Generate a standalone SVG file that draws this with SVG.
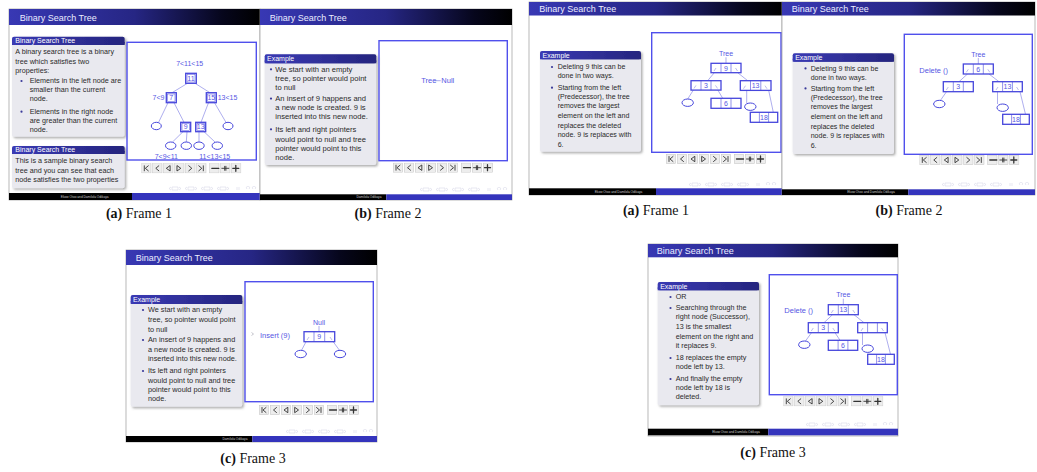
<svg xmlns="http://www.w3.org/2000/svg" width="1037" height="472" viewBox="0 0 1037 472">
<defs>
<linearGradient id="tbg" x1="0" x2="1" y1="0" y2="0"><stop offset="0" stop-color="#3838b4"/><stop offset=".5" stop-color="#262684"/><stop offset=".85" stop-color="#06061c"/><stop offset="1" stop-color="#000"/></linearGradient>
<linearGradient id="bhg" x1="0" x2="1" y1="0" y2="0"><stop offset="0" stop-color="#3a3ab4"/><stop offset="1" stop-color="#25257e"/></linearGradient>
<filter id="sh" x="-10%" y="-10%" width="130%" height="130%"><feDropShadow dx="1.5" dy="1.5" stdDeviation="1.2" flood-color="#666" flood-opacity=".55"/></filter>
<symbol id="navbar" viewBox="0 0 100 10" width="100" height="10">
<g fill="#ededed" stroke="#c2c2c2" stroke-width=".5">
<rect x=".3" y=".3" width="9.4" height="9.4"/><rect x="11.3" y=".3" width="9.4" height="9.4"/><rect x="22.3" y=".3" width="9.4" height="9.4"/><rect x="33.3" y=".3" width="9.4" height="9.4"/><rect x="44.3" y=".3" width="9.4" height="9.4"/><rect x="55.3" y=".3" width="9.4" height="9.4"/><rect x="68.3" y=".3" width="9.4" height="9.4"/><rect x="79.3" y=".3" width="9.4" height="9.4"/><rect x="90.3" y=".3" width="9.4" height="9.4"/>
</g>
<g fill="none" stroke="#333" stroke-width=".9" stroke-linecap="round" stroke-linejoin="round">
<path d="M3 2.5V7.5M7 2.5L4 5L7 7.5"/>
<path d="M17.5 2.5L14.5 5L17.5 7.5"/>
<path d="M28.5 2.5L25 5L28.5 7.5Z"/>
<path d="M36 2.5L39.5 5L36 7.5Z"/>
<path d="M47.5 2.5L50.5 5L47.5 7.5"/>
<path d="M57.5 2.5L60.5 5L57.5 7.5M62 2.5V7.5"/>
<path d="M70.5 5H77.5" stroke-width="1.3"/>
<path d="M80.5 5H87.5M83.4 3V7M84.6 3V7"/>
<path d="M91.5 5H97.5M94.5 2V8" stroke-width="1.3"/>
</g>
</symbol>
<symbol id="bnav" viewBox="0 0 90 5" width="90" height="5">
<g fill="none" stroke="#cfcfe2" stroke-width=".5">
<path d="M2 1L0 2.5L2 4M3 1H9V4H3ZM10 1L12 2.5L10 4"/>
<path d="M18 1L16 2.5L18 4M19 1H25V4H19ZM26 1L28 2.5L26 4"/>
<path d="M34 1L32 2.5L34 4M35 1H41V4H35ZM42 1L44 2.5L42 4"/>
<path d="M50 1L48 2.5L50 4M51 1H57V4H51ZM58 1L60 2.5L58 4"/>
<path d="M68 1V4M70 1V4"/>
<path d="M78 3A1.6 1.6 0 1 1 80 3M86 3A1.6 1.6 0 1 0 84 3"/>
</g>
</symbol>
</defs>
<style>
.sl{fill:#fff;stroke:#9a9a9a;stroke-width:.7}
.tb{fill:url(#tbg)}
.tt{font-family:"Liberation Sans",Arial,sans-serif;font-size:9px;fill:#ececff}
.blk{filter:url(#sh)}
.bh{fill:url(#bhg)}
.bb{fill:#e9e9ef}
.bht{font-family:"Liberation Sans",Arial,sans-serif;font-size:7px;fill:#fff}
.bt{font-family:"Liberation Sans",Arial,sans-serif;fill:#2a2a2a}
.bul{fill:#3a3a9a}
.fr{fill:none;stroke:#5050ec;stroke-width:1.4}
.ln{stroke:#7777e2;stroke-width:.6;fill:none}
.nd{fill:#fff;stroke:#4646dc;stroke-width:1.3}
.ndi{fill:none;stroke:#4646dc;stroke-width:.5}
.dv{stroke:#4646dc;stroke-width:.6;fill:none}
.tk{stroke:#6a6ad8;stroke-width:.45;fill:none}
.el{fill:#fff;stroke:#4646dc;stroke-width:1}
.tx{font-family:"Liberation Sans",Arial,sans-serif;font-size:7px;fill:#5656e4;text-anchor:middle}
.txs{font-family:"Liberation Sans",Arial,sans-serif;font-size:7.5px;fill:#5656e4}
.fk{fill:#000}
.fbl{fill:#3434bc}
.ft{font-family:"Liberation Sans",Arial,sans-serif;font-size:3.2px;fill:#c8c8c8;text-anchor:middle}
.cap{font-family:"Liberation Serif","Times New Roman",serif;font-size:14px;fill:#111;text-anchor:middle}
</style>

<!-- ================= Slide 1 ================= -->
<g id="slide1" transform="translate(9,9)">
<rect class="sl" x="0" y="0" width="251" height="191"/>
<rect class="tb" x="0" y="0" width="251" height="16"/>
<text class="tt" x="10.7" y="11.7">Binary Search Tree</text>
<g id="s1-block1">
<g class="blk"><rect class="bb" x="3" y="27.7" width="112.7" height="100" rx="2"/><rect class="bh" x="3" y="27.7" width="112.7" height="8.3" rx="2"/><rect class="bh" x="3" y="33" width="112.7" height="3"/></g>
<text class="bht" x="6.3" y="34">Binary Search Tree</text>
<g class="bt" font-size="7.2">
<text x="6.3" y="45.3">A binary search tree is a binary</text>
<text x="6.3" y="55">tree which satisfies two</text>
<text x="6.3" y="64.3">properties:</text>
<text x="20.7" y="74.3">Elements in the left node are</text>
<text x="20.7" y="83.3">smaller than the current</text>
<text x="20.7" y="92">node.</text>
<text x="20.7" y="105">Elements in the right node</text>
<text x="20.7" y="114.3">are greater than the current</text>
<text x="20.7" y="123.3">node.</text>
</g>
<circle class="bul" cx="12.5" cy="72" r="1.1"/><circle class="bul" cx="12.5" cy="102.7" r="1.1"/>
</g>
<g id="s1-block2">
<g class="blk"><rect class="bb" x="3" y="137" width="112.7" height="42.3" rx="2"/><rect class="bh" x="3" y="137" width="112.7" height="8" rx="2"/><rect class="bh" x="3" y="142" width="112.7" height="3"/></g>
<text class="bht" x="6.3" y="143.3">Binary Search Tree</text>
<g class="bt" font-size="7.2">
<text x="6.3" y="154.3">This is a sample binary search</text>
<text x="6.3" y="163.7">tree and you can see that each</text>
<text x="6.3" y="172.7">node satisfies the two properties</text>
</g>
</g>
<rect class="fr" x="118" y="33.3" width="129.3" height="117.7"/>
<g id="s1-edges">
<path class="ln" d="M178.5 74.3L163 83.7M186 74.3L201 83.7M159 93.7L149.5 113.5M165 93.7L175 113.3M199.5 93.7L192 113.3M205.5 93.7L217 113.4M174 122.7L163.5 133M178 122.7L177.3 133M190 122.7L190 133M195 122.7L206 133"/>
</g>
<g id="s1-labels">
<text class="tx" x="180.7" y="56.8" font-size="7.4">7&lt;11&lt;15</text>
<text class="tx" x="149.5" y="91" font-size="7.4">7&lt;9</text>
<text class="tx" x="218.5" y="91" font-size="7.4">13&lt;15</text>
<text class="tx" x="157.3" y="149.5" font-size="7.4">7&lt;9&lt;11</text>
<text class="tx" x="205.7" y="149.5" font-size="7.4">11&lt;13&lt;15</text>
</g>
<g id="s1-n11"><rect class="nd" x="176.7" y="64.3" width="10.6" height="10"/><rect class="ndi" x="178" y="65.6" width="8" height="7.4"/><text class="tx" x="182" y="71.8" font-size="6">11</text></g>
<g id="s1-n7"><rect class="nd" x="157.3" y="83.7" width="10" height="10"/><rect class="ndi" x="158.6" y="85" width="7.4" height="7.4"/><text class="tx" x="162.3" y="91.2" font-size="6">7</text></g>
<g id="s1-n15"><rect class="nd" x="197.3" y="83.7" width="10" height="10"/><rect class="ndi" x="198.6" y="85" width="7.4" height="7.4"/><text class="tx" x="202.3" y="91.2" font-size="6">15</text></g>
<g id="s1-n9"><rect class="nd" x="171.7" y="113.3" width="10" height="9.4"/><rect class="ndi" x="173" y="114.6" width="7.4" height="6.8"/><text class="tx" x="176.7" y="120.4" font-size="6">9</text></g>
<g id="s1-n13"><rect class="nd" x="186.7" y="113.3" width="10" height="9.4"/><rect class="ndi" x="188" y="114.6" width="7.4" height="6.8"/><text class="tx" x="191.7" y="120.4" font-size="6">13</text></g>
<g id="s1-nulls">
<ellipse class="el" cx="147.3" cy="117" rx="5" ry="3.7"/>
<ellipse class="el" cx="219" cy="117" rx="5" ry="3.7"/>
<ellipse class="el" cx="161.7" cy="136.7" rx="5.2" ry="3.7"/>
<ellipse class="el" cx="177.3" cy="136.7" rx="5.2" ry="3.7"/>
<ellipse class="el" cx="190" cy="136.7" rx="5.2" ry="3.7"/>
<ellipse class="el" cx="208.3" cy="136.7" rx="5.2" ry="3.7"/>
</g>
<use href="#navbar" x="132.3" y="154.3"/>
<use href="#bnav" x="160" y="177"/>
<rect class="fk" x="0" y="184" width="123" height="7"/><rect class="fbl" x="123" y="184" width="128" height="7"/>
<text class="ft" x="75.7" y="188.6">Ekow Otoo and Damilola Odikaya</text>
</g>

<!-- ================= Slide 2 ================= -->
<g id="slide2" transform="translate(260,9)">
<rect class="sl" x="0" y="0" width="252" height="191"/>
<rect class="tb" x="0" y="0" width="252" height="16"/>
<text class="tt" x="9.7" y="11.7">Binary Search Tree</text>
<g id="s2-block">
<g class="blk"><rect class="bb" x="4.7" y="45.3" width="111.6" height="110.7" rx="2"/><rect class="bh" x="4.7" y="45.3" width="111.6" height="9" rx="2"/><rect class="bh" x="4.7" y="51.3" width="111.6" height="3"/></g>
<text class="bht" x="7" y="52.3">Example</text>
<g class="bt" font-size="7.6">
<text x="15.3" y="62.7">We start with an empty</text>
<text x="15.3" y="72.3">tree, so pointer would point</text>
<text x="15.3" y="81">to null</text>
<text x="15.3" y="92">An insert of 9 happens and</text>
<text x="15.3" y="101">a new node is created. 9 is</text>
<text x="15.3" y="110">inserted into this new node.</text>
<text x="15.3" y="122.7">Its left and right pointers</text>
<text x="15.3" y="132.7">would point to null and tree</text>
<text x="15.3" y="141.7">pointer would point to this</text>
<text x="15.3" y="151">node.</text>
</g>
<circle class="bul" cx="11" cy="60.3" r="1.1"/><circle class="bul" cx="11" cy="89.6" r="1.1"/><circle class="bul" cx="11" cy="120.3" r="1.1"/>
</g>
<rect class="fr" x="119" y="31.7" width="128.3" height="120"/>
<g id="s2-tree"><text class="txs" x="161.3" y="74" font-size="6.6">Tree</text></g>
<g id="s2-edges"><path class="ln" d="M174 71.7H180.7"/></g>
<g id="s2-null"><text class="txs" x="181.3" y="74" font-size="6.6">Null</text></g>
<use href="#navbar" x="133" y="153.7"/>
<use href="#bnav" x="160" y="178"/>
<rect class="fk" x="0" y="185.3" width="126.3" height="5.7"/><rect class="fbl" x="126.3" y="185.3" width="125.7" height="5.7"/>
<text class="ft" x="109" y="189.2">Damilola Odikaya</text>
</g>

<!-- ================= Slide 3 ================= -->
<g id="slide3" transform="translate(126,250)">
<rect class="sl" x="0" y="0" width="251" height="192"/>
<rect class="tb" x="0" y="0" width="251" height="15"/>
<text class="tt" x="9.7" y="11.3">Binary Search Tree</text>
<g id="s3-block">
<g class="blk"><rect class="bb" x="4.7" y="45" width="111.6" height="111.7" rx="2"/><rect class="bh" x="4.7" y="45" width="111.6" height="9" rx="2"/><rect class="bh" x="4.7" y="51" width="111.6" height="3"/></g>
<text class="bht" x="7" y="52">Example</text>
<g class="bt" font-size="7.3">
<text x="22" y="62.3">We start with an empty</text>
<text x="22" y="72.3">tree, so pointer would point</text>
<text x="22" y="81.7">to null</text>
<text x="22" y="92.3">An insert of 9 happens and</text>
<text x="22" y="101.7">a new node is created. 9 is</text>
<text x="22" y="111">inserted into this new node.</text>
<text x="22" y="123.3">Its left and right pointers</text>
<text x="22" y="132.7">would point to null and tree</text>
<text x="22" y="141.7">pointer would point to this</text>
<text x="22" y="151">node.</text>
</g>
<circle class="bul" cx="17" cy="60" r="1.1"/><circle class="bul" cx="17" cy="90" r="1.1"/><circle class="bul" cx="17" cy="121" r="1.1"/>
</g>
<rect class="fr" x="119" y="31.7" width="128.3" height="120"/>
<g id="s3-insert"><path d="M125.5 82.5L127.5 84L125.5 85.5" fill="none" stroke="#8a8a9a" stroke-width=".5"/><text class="txs" x="134" y="88" font-size="7.6">Insert (9)</text></g>
<g id="s3-nulllabel"><text class="tx" x="193" y="74.5" font-size="6.8">Null</text></g>
<g id="s3-edges"><path class="ln" d="M193 76V81.7M180.7 90.5L175.5 100.3M206.3 90.5L213.5 100.3"/></g>
<g id="s3-n9"><rect class="nd" x="178" y="81.7" width="30.7" height="10"/><path class="dv" d="M188 81.7V91.7M198.7 81.7V91.7"/><path class="tk" d="M181 90L183 87M204 87L206 90"/><text class="tx" x="193.3" y="89.2">9</text></g>
<g id="s3-nulls"><ellipse class="el" cx="174.7" cy="104" rx="5.7" ry="3.7"/><ellipse class="el" cx="214" cy="104" rx="5.7" ry="3.7"/></g>
<use href="#navbar" x="133" y="155"/>
<use href="#bnav" x="160" y="179"/>
<rect class="fk" x="0" y="186" width="126.3" height="6"/><rect class="fbl" x="126.3" y="186" width="124.7" height="6"/>
<text class="ft" x="109" y="190">Damilola Odikaya</text>
</g>

<!-- ================= Slide 4 ================= -->
<g id="slide4" transform="translate(529,2)">
<rect class="sl" x="0" y="0" width="253" height="193"/>
<rect class="tb" x="0" y="0" width="253" height="13.5"/>
<text class="tt" x="10.3" y="10.3">Binary Search Tree</text>
<g id="s4-block">
<g class="blk"><rect class="bb" x="11" y="49" width="101" height="100.7" rx="2"/><rect class="bh" x="11" y="49" width="101" height="8.3" rx="2"/><rect class="bh" x="11" y="54.3" width="101" height="3"/></g>
<text class="bht" x="13.5" y="55.5">Example</text>
<g class="bt" font-size="7.05">
<text x="28.7" y="67.3">Deleting 9 this can be</text>
<text x="28.7" y="76.3">done in two ways.</text>
<text x="28.7" y="88">Starting from the left</text>
<text x="28.7" y="97.3">(Predecessor), the tree</text>
<text x="28.7" y="106.3">removes the largest</text>
<text x="28.7" y="116.3">element on the left and</text>
<text x="28.7" y="125.7">replaces the deleted</text>
<text x="28.7" y="134.7">node. 9 is replaces with</text>
<text x="28.7" y="144.7">6.</text>
</g>
<circle class="bul" cx="23" cy="65" r="1.1"/><circle class="bul" cx="23" cy="85.7" r="1.1"/>
</g>
<rect class="fr" x="122.7" y="30.7" width="129.3" height="119.6"/>
<g id="s4-treelabel"><text class="tx" x="197" y="53.8">Tree</text></g>
<g id="s4-edges"><path class="ln" d="M197 55.3V61.3M185.3 70.7L178.7 78.7M208.7 70.7L218.7 78.7M164.5 87.8L158.7 97M188.7 87.8L193.7 96.3M217.7 88.4V101M239.7 88.4L244.3 110.3"/></g>
<g id="s4-n9"><rect class="nd" x="182" y="61.3" width="30" height="9.4"/><path class="dv" d="M192 61.3V70.7M202 61.3V70.7"/><path class="tk" d="M185 69L187 66M206.5 66L208.5 69"/><text class="tx" x="197" y="68.6">9</text></g>
<g id="s4-n3"><rect class="nd" x="162" y="78.7" width="30" height="9.4"/><path class="dv" d="M172 78.7V88.1M182 78.7V88.1"/><path class="tk" d="M165 86.4L167 83.4M186.5 83.4L188.5 86.4"/><text class="tx" x="177" y="86">3</text></g>
<g id="s4-n13"><rect class="nd" x="211.3" y="78.7" width="30.7" height="9.7"/><path class="dv" d="M221.5 78.7V88.4M231.8 78.7V88.4"/><path class="tk" d="M214.5 86.7L216.5 83.7M236 83.7L238 86.7"/><text class="tx" x="226.6" y="86.2">13</text></g>
<g id="s4-n6"><rect class="nd" x="182" y="96.3" width="30" height="10"/><path class="dv" d="M192 96.3V106.3M202 96.3V106.3"/><text class="tx" x="197" y="103.9">6</text></g>
<g id="s4-n18"><rect class="nd" x="221.3" y="110.3" width="27.4" height="10"/><path class="dv" d="M230.4 110.3V120.3M239.6 110.3V120.3"/><text class="tx" x="235" y="117.9">18</text></g>
<g id="s4-nulls"><ellipse class="el" cx="158.7" cy="100.7" rx="5.7" ry="3.7"/><ellipse class="el" cx="221.3" cy="104.7" rx="5.7" ry="3.7"/></g>
<use href="#navbar" x="137" y="152"/>
<use href="#bnav" x="160" y="180"/>
<rect class="fk" x="0" y="186.3" width="127" height="6.7"/><rect class="fbl" x="127" y="186.3" width="126" height="6.7"/>
<text class="ft" x="89.5" y="190.7">Ekow Otoo and Damilola Odikaya</text>
</g>

<!-- ================= Slide 5 ================= -->
<g id="slide5" transform="translate(782,2)">
<rect class="sl" x="0" y="0" width="253" height="193"/>
<rect class="tb" x="0" y="0" width="253" height="13.5"/>
<text class="tt" x="9.7" y="10.3">Binary Search Tree</text>
<g id="s5-block">
<g class="blk"><rect class="bb" x="10.7" y="51.3" width="101.3" height="100.7" rx="2"/><rect class="bh" x="10.7" y="51.3" width="101.3" height="8.4" rx="2"/><rect class="bh" x="10.7" y="56.7" width="101.3" height="3"/></g>
<text class="bht" x="13.2" y="57.8">Example</text>
<g class="bt" font-size="7.05">
<text x="28.7" y="68.7">Deleting 9 this can be</text>
<text x="28.7" y="78">done in two ways.</text>
<text x="28.7" y="88.7">Starting from the left</text>
<text x="28.7" y="98">(Predecessor), the tree</text>
<text x="28.7" y="107.3">removes the largest</text>
<text x="28.7" y="117.3">element on the left and</text>
<text x="28.7" y="127">replaces the deleted</text>
<text x="28.7" y="136.3">node. 9 is replaces with</text>
<text x="28.7" y="146.3">6.</text>
</g>
<circle class="bul" cx="23.5" cy="66.4" r="1.1"/><circle class="bul" cx="23.5" cy="86.4" r="1.1"/>
</g>
<rect class="fr" x="122.3" y="32.3" width="128" height="120"/>
<g id="s5-treelabel"><text class="tx" x="196.3" y="54.5">Tree</text></g>
<g id="s5-delete"><text class="txs" x="137.3" y="70.5" font-size="7.6">Delete ()</text></g>
<g id="s5-edges"><path class="ln" d="M196.3 56V62M185.5 72L177 79.7M207 72L217 79.7M164.5 89.7L158.5 98.3M215.5 89.7V102M238 89.7L243.5 112.3"/></g>
<g id="s5-n6"><rect class="nd" x="181.3" y="62" width="30" height="10"/><path class="dv" d="M191.3 62V72M201.3 62V72"/><path class="tk" d="M184.3 70.3L186.3 67.3M205.8 67.3L207.8 70.3"/><text class="tx" x="196.3" y="69.6">6</text></g>
<g id="s5-n3"><rect class="nd" x="161.3" y="79.7" width="30" height="10"/><path class="dv" d="M171.3 79.7V89.7M181.3 79.7V89.7"/><path class="tk" d="M164.3 88L166.3 85"/><text class="tx" x="176.3" y="87.3">3</text></g>
<g id="s5-n13"><rect class="nd" x="210.7" y="79.7" width="29.6" height="10"/><path class="dv" d="M220.6 79.7V89.7M230.4 79.7V89.7"/><path class="tk" d="M214 88L216 85M234.5 85L236.5 88"/><text class="tx" x="225.5" y="87.3">13</text></g>
<g id="s5-n18"><rect class="nd" x="220.7" y="112.3" width="26.6" height="10"/><path class="dv" d="M229.6 112.3V122.3M238.4 112.3V122.3"/><text class="tx" x="234" y="119.9">18</text></g>
<g id="s5-nulls"><ellipse class="el" cx="157.3" cy="102" rx="5.7" ry="3.7"/><ellipse class="el" cx="220.7" cy="105.7" rx="5.7" ry="3.7"/></g>
<use href="#navbar" x="137.3" y="153"/>
<use href="#bnav" x="160" y="180"/>
<rect class="fk" x="0" y="187.3" width="126.3" height="5.7"/><rect class="fbl" x="126.3" y="187.3" width="126.7" height="5.7"/>
<text class="ft" x="89" y="191.2">Ekow Otoo and Damilola Odikaya</text>
</g>

<!-- ================= Slide 6 ================= -->
<g id="slide6" transform="translate(648,244)">
<rect class="sl" x="0" y="0" width="250" height="192"/>
<rect class="tb" x="0" y="0" width="250" height="13.3"/>
<text class="tt" x="8.7" y="10.3">Binary Search Tree</text>
<g id="s6-block">
<g class="blk"><rect class="bb" x="9.7" y="38" width="101.3" height="123.3" rx="2"/><rect class="bh" x="9.7" y="38" width="101.3" height="8.3" rx="2"/><rect class="bh" x="9.7" y="43.3" width="101.3" height="3"/></g>
<text class="bht" x="12.2" y="44.5">Example</text>
<g class="bt" font-size="7.2">
<text x="27.7" y="55.3">OR</text>
<text x="27.7" y="66.3">Searching through the</text>
<text x="27.7" y="75.3">right node (Successor),</text>
<text x="27.7" y="84.7">13 is the smallest</text>
<text x="27.7" y="94.7">element on the right and</text>
<text x="27.7" y="104">it replaces 9.</text>
<text x="27.7" y="116.3">18 replaces the empty</text>
<text x="27.7" y="125.3">node left by 13.</text>
<text x="27.7" y="137.3">And finally the empty</text>
<text x="27.7" y="146.3">node left by 18 is</text>
<text x="27.7" y="155.3">deleted.</text>
</g>
<circle class="bul" cx="22.5" cy="53" r="1.1"/><circle class="bul" cx="22.5" cy="64" r="1.1"/><circle class="bul" cx="22.5" cy="114" r="1.1"/><circle class="bul" cx="22.5" cy="135" r="1.1"/>
</g>
<rect class="fr" x="121.3" y="30.7" width="128" height="120"/>
<g id="s6-treelabel"><text class="tx" x="195.3" y="53.2">Tree</text></g>
<g id="s6-delete"><text class="txs" x="136.3" y="68.8" font-size="7.6">Delete ()</text></g>
<g id="s6-edges"><path class="ln" d="M195.3 54.7V60.7M184.5 70.7L176 78.7M206 70.7L216 78.7M163.5 88.7L157.5 97M187 88.7L192 96.3M214.5 88.7V101M237 88.7L242.5 110.3"/></g>
<g id="s6-n13"><rect class="nd" x="180.3" y="60.7" width="30" height="10"/><path class="dv" d="M190.3 60.7V70.7M200.3 60.7V70.7"/><path class="tk" d="M183.3 69L185.3 66M204.8 66L206.8 69"/><text class="tx" x="195.3" y="68.3">13</text></g>
<g id="s6-n3"><rect class="nd" x="160.3" y="78.7" width="30" height="10"/><path class="dv" d="M170.3 78.7V88.7M180.3 78.7V88.7"/><path class="tk" d="M163.3 87L165.3 84M184.8 84L186.8 87"/><text class="tx" x="175.3" y="86.3">3</text></g>
<g id="s6-nempty"><rect class="nd" x="209.7" y="78.7" width="29.6" height="10"/><path class="dv" d="M219.6 78.7V88.7M229.4 78.7V88.7"/><path class="tk" d="M213 87L215 84M233.5 84L235.5 87"/></g>
<g id="s6-n6"><rect class="nd" x="180.3" y="96.3" width="29.4" height="10"/><path class="dv" d="M190.1 96.3V106.3M199.9 96.3V106.3"/><text class="tx" x="195" y="103.9">6</text></g>
<g id="s6-n18"><rect class="nd" x="219.7" y="110.3" width="26.6" height="10"/><path class="dv" d="M228.6 110.3V120.3M237.4 110.3V120.3"/><text class="tx" x="233" y="117.9">18</text></g>
<g id="s6-nulls"><ellipse class="el" cx="156.3" cy="100.7" rx="5.7" ry="3.7"/><ellipse class="el" cx="219.7" cy="104.7" rx="5.7" ry="3.7"/></g>
<use href="#navbar" x="135.3" y="152.3"/>
<use href="#bnav" x="158" y="178"/>
<rect class="fk" x="0" y="184.7" width="120.3" height="6.6"/><rect class="fbl" x="120.3" y="184.7" width="129.7" height="6.6"/>
<text class="ft" x="88" y="189">Ekow Otoo and Damilola Odikaya</text>
</g>

<!-- ================= Captions ================= -->
<g id="captions">
<text class="cap" x="139" y="218"><tspan font-weight="bold">(a)</tspan> Frame 1</text>
<text class="cap" x="388" y="218"><tspan font-weight="bold">(b)</tspan> Frame 2</text>
<text class="cap" x="253" y="463"><tspan font-weight="bold">(c)</tspan> Frame 3</text>
<text class="cap" x="656" y="215"><tspan font-weight="bold">(a)</tspan> Frame 1</text>
<text class="cap" x="909" y="215"><tspan font-weight="bold">(b)</tspan> Frame 2</text>
<text class="cap" x="773" y="457"><tspan font-weight="bold">(c)</tspan> Frame 3</text>
</g>
</svg>
